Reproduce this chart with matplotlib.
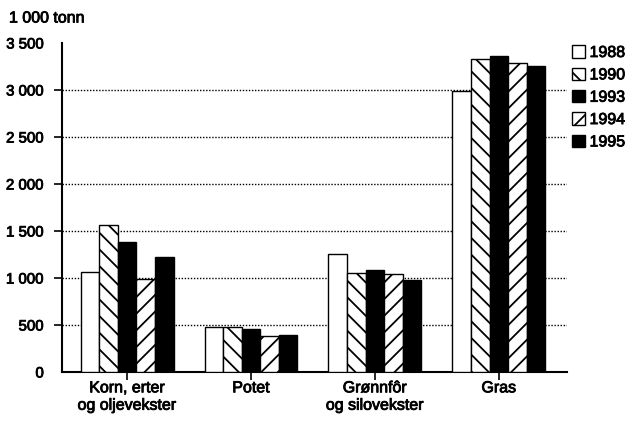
import matplotlib.pyplot as plt
import matplotlib.patheffects as pe
import numpy as np
from matplotlib.patches import Patch

# data (1 000 tonn)
categories = ["Korn, erter\nog oljevekster", "Potet", "Grønnfôr\nog silovekster", "Gras"]
years = ["1988", "1990", "1993", "1994", "1995"]
v1988 = [1065, 482, 1255, 2990]
v1990 = [1565, 482, 1050, 3325]
v1993 = [1385, 455, 1090, 3360]
v1994 = [985, 386, 1043, 3290]
v1995 = [1228, 397, 980, 3258]
series = [v1988, v1990, v1993, v1994, v1995]
ytick_vals = [0, 500, 1000, 1500, 2000, 2500, 3000, 3500]
ytick_labels = ["0", "500", "1 000", "1 500", "2 000", "2 500", "3 000", "3 500"]

faces = ["white", "white", "black", "white", "black"]
hatches = [None, "\\\\", None, "//", None]

plt.rcParams['font.family'] = ['Liberation Sans', 'DejaVu Sans']
plt.rcParams['hatch.linewidth'] = 1.3
fs = 11.5
bold = [pe.withStroke(linewidth=0.6, foreground="black")]

fig = plt.figure(figsize=(6.29, 4.25), dpi=100)
ax = fig.add_axes([62 / 629, 1 - 372 / 425, 505 / 629, 329 / 425])

x = np.arange(len(categories))
w = 0.15
for i, vals in enumerate(series):
    ax.bar(x + (i - 2) * w, vals, w, color=faces[i], edgecolor="black",
           hatch=hatches[i], linewidth=1.0, zorder=3)

# dotted gridlines
for yv in ytick_vals[1:-1]:
    ax.axhline(yv, color="black", lw=1.0, ls=(0, (1, 1.2)), zorder=1)

ax.set_xlim(-0.525, 3.55)
ax.set_ylim(0, 3500)
ax.set_yticks(ytick_vals)
ax.set_yticklabels(ytick_labels, fontsize=10.8, path_effects=bold)
ax.set_xticks(x)
ax.set_xticklabels(categories, fontsize=fs, linespacing=1.2, path_effects=bold)
ax.tick_params(axis="y", length=6, width=1.2, pad=7)
ax.tick_params(axis="x", length=6, width=1.2, pad=0)
yt = ax.yaxis.get_major_ticks()
yt[0].tick1line.set_visible(False)
yt[-1].tick1line.set_visible(False)

for s in ["top", "right"]:
    ax.spines[s].set_visible(False)
ax.spines["left"].set_linewidth(1.5)
ax.spines["bottom"].set_linewidth(1.5)

fig.text(9 / 629, 1 - 18 / 425, "1 000 tonn", fontsize=fs, va="center", ha="left",
         path_effects=bold)

handles = [Patch(facecolor=faces[i], edgecolor="black", hatch=hatches[i], linewidth=1.0)
           for i in range(len(years))]
leg = fig.legend(handles, years, loc="upper left", bbox_to_anchor=(572 / 629, 1 - 45 / 425),
                 frameon=False, fontsize=fs, handlelength=0.8, handleheight=0.8,
                 handletextpad=0.3, labelspacing=0.46, borderpad=0, borderaxespad=0)
for t in leg.get_texts():
    t.set_path_effects(bold)

fig.savefig("out.png", dpi=100)
